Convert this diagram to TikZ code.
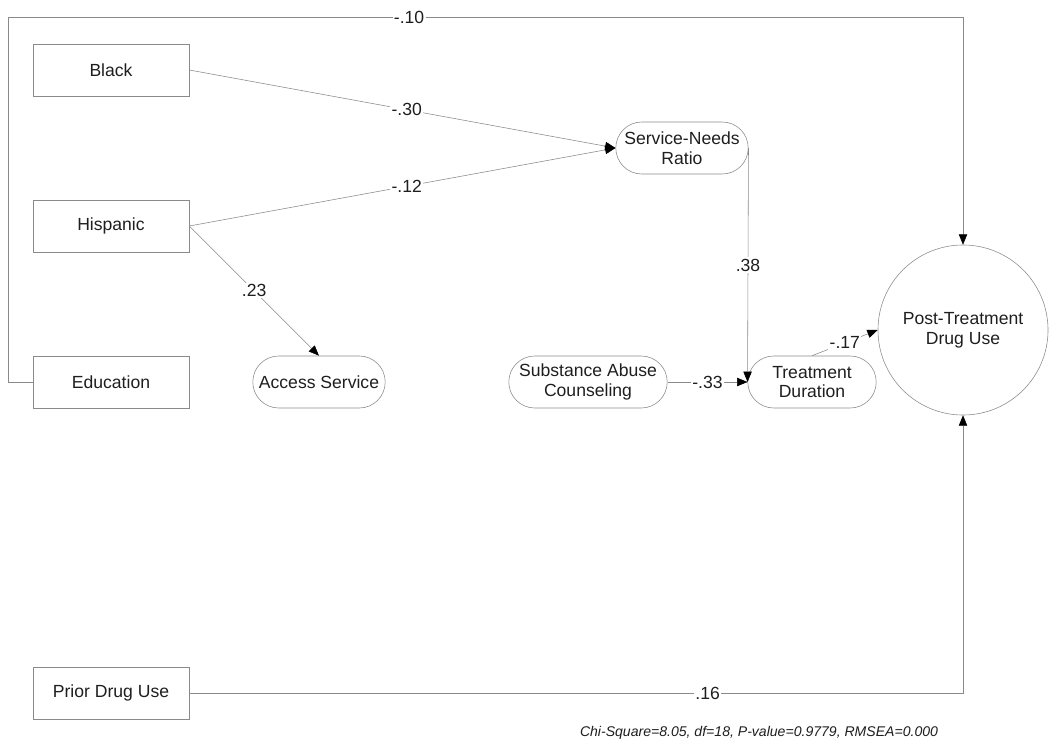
\documentclass[tikz,border=0pt]{standalone}
\usepackage{fontspec}
\setmainfont{Liberation Sans}
\usetikzlibrary{arrows.meta,positioning,calc,shapes.misc}
\definecolor{lnc}{HTML}{8A8A8A}
\definecolor{txc}{HTML}{1E1E1E}

\begin{document}
\begin{tikzpicture}[x=0.025cm,y=-0.025cm,
  obs/.style={draw=lnc,rectangle,minimum width=3.9cm,minimum height=1.3cm,text=txc,font=\fontsize{12.5}{14}\selectfont},
  lat/.style={draw=lnc,rounded rectangle,minimum height=1.3cm,inner xsep=2pt,align=center,text=txc,font=\fontsize{12.5}{14}\selectfont},
  coef/.style={fill=white,inner sep=1pt,text=txc,font=\fontsize{12.5}{14}\selectfont},
  path/.style={draw=lnc,-{Triangle[length=2.6mm,width=2.1mm,fill=black,color=black]}}]
\useasboundingbox (0,0) rectangle (1050,749);
% exogenous
\node[obs] (blk) at (111,70) {Black};
\node[obs] (hsp) at (111,226) {Hispanic};
\node[obs] (edu) at (111,382) {Education};
\node[obs] (pdu) at (111,693) {Prior Drug Use};
% mediators
\node[lat,minimum width=3.45cm] (snr) at (682,148) {Service-Needs\\Ratio};
\node[lat,minimum width=3.45cm] (acc) at (319,382) {Access Service};
\node[lat,minimum width=4.1cm] (sac) at (588,382) {Substance Abuse\\Counseling};
\node[lat,minimum width=3.35cm] (tdu) at (812,382) {Treatment\\Duration};
\node[draw=lnc,circle,minimum size=4.25cm,align=center,text=txc,font=\fontsize{12.5}{14}\selectfont] (ptu) at (963,330) {Post-Treatment\\Drug Use};
\coordinate (tl) at (8,17);
% paths
\draw[path] (blk.east) -- node[coef,pos=0.51] {-.30} (snr.west);
\draw[path] (hsp.east) -- node[coef,pos=0.51] {-.12} (snr.west);
\draw[path] (hsp.east) -- node[coef,pos=0.5] {.23} (acc.north);
\draw[path] (snr.east) -- node[coef] {.38} (tdu.west);
\draw[path] (sac.east) -- node[coef] {-.33} (tdu.west);
\draw[path] (tdu.north) -- node[coef] {-.17} (ptu.west);
\draw[path] (edu.west) -| (tl) -| node[coef,pos=0.21] {-.10} (ptu.north);
\draw[path] (pdu.east) -| node[coef,pos=0.335] {.16} (ptu.south);
\node[text=txc,font=\fontsize{10}{12}\selectfont\itshape,anchor=east] (fit) at (943,733) {Chi-Square=8.05, df=18, P-value=0.9779, RMSEA=0.000};
\end{tikzpicture}
\end{document}
